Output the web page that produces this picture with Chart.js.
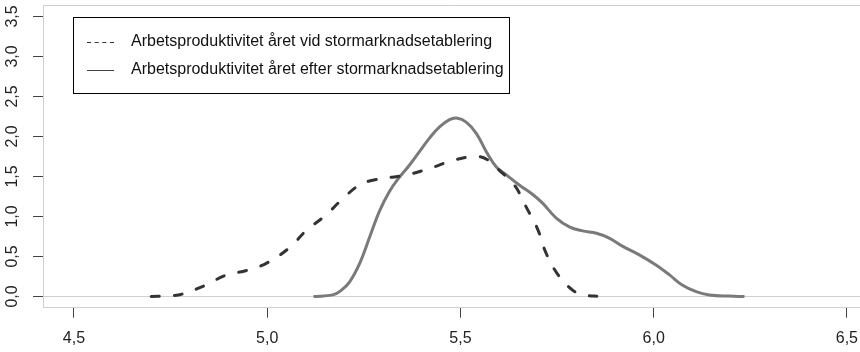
<!DOCTYPE html>
<html><head><meta charset="utf-8">
<script src="https://cdn.jsdelivr.net/npm/chart.js@4/dist/chart.umd.min.js"></script>
<style>html,body{margin:0;padding:0;background:#fff;} #wrap{width:860px;height:352px;}</style>
</head><body><div id="wrap"><canvas id="c" width="860" height="352"></canvas></div>
<script>
// Series: density of labour productivity (x)
const dashX = [4.70, 4.75, 4.78, 4.84, 4.89, 4.95, 5.00, 5.06, 5.10, 5.15, 5.195, 5.24, 5.27, 5.30, 5.36, 5.42, 5.48, 5.54, 5.57, 5.60, 5.64, 5.67, 5.70, 5.72, 5.75, 5.79, 5.82, 5.86];
const dashY = [0.00, 0.01, 0.03, 0.14, 0.26, 0.33, 0.42, 0.62, 0.82, 1.01, 1.22, 1.40, 1.45, 1.475, 1.52, 1.60, 1.70, 1.75, 1.71, 1.58, 1.39, 1.12, 0.84, 0.56, 0.29, 0.08, 0.02, 0.00];
const solidX = [5.12, 5.17, 5.19, 5.213, 5.24, 5.265, 5.29, 5.316, 5.342, 5.368, 5.394, 5.42, 5.446, 5.472, 5.49, 5.515, 5.541, 5.567, 5.593, 5.619, 5.653, 5.683, 5.712, 5.748, 5.782, 5.816, 5.852, 5.885, 5.919, 5.963, 6.007, 6.041, 6.075, 6.11, 6.144, 6.196, 6.235];
const solidY = [0.00, 0.02, 0.07, 0.18, 0.42, 0.74, 1.06, 1.31, 1.49, 1.64, 1.81, 1.98, 2.12, 2.21, 2.23, 2.18, 2.04, 1.81, 1.62, 1.52, 1.39, 1.29, 1.17, 0.98, 0.87, 0.82, 0.79, 0.73, 0.63, 0.52, 0.39, 0.27, 0.14, 0.06, 0.02, 0.005, 0.00];
const seriesLabels = ['Arbetsproduktivitet året vid stormarknadsetablering', 'Arbetsproduktivitet året efter stormarknadsetablering'];
const xTicks = [4.5, 5.0, 5.5, 6.0, 6.5];
const xTickLabels = ['4,5', '5,0', '5,5', '6,0', '6,5'];
const yTicks = [0, 0.5, 1.0, 1.5, 2.0, 2.5, 3.0, 3.5];
const yTickLabels = ['0,0', '0,5', '1,0', '1,5', '2,0', '2,5', '3,0', '3,5'];

const FONT = '"Liberation Sans", Arial, Helvetica, sans-serif';
const BOX = '#d0d0d0';

const toPts = (xs, ys) => xs.map((x, i) => ({x: x, y: ys[i]}));

const boxLegend = {
  id: 'boxLegend',
  afterDraw(chart) {
    const ctx = chart.ctx, a = chart.chartArea;
    ctx.save();
    // top border of plot box
    ctx.strokeStyle = BOX; ctx.lineWidth = 1;
    ctx.beginPath();
    ctx.moveTo(a.left, Math.round(a.top) + 0.5);
    ctx.lineTo(a.right, Math.round(a.top) + 0.5);
    ctx.stroke();
    // legend box
    ctx.strokeStyle = '#000';
    ctx.strokeRect(73.5, 17.5, 436, 76);
    const rows = [
      {y: 42, color: '#333', dash: [4, 3.67]},
      {y: 70, color: '#444', dash: []}
    ];
    ctx.font = '16px ' + FONT;
    ctx.textBaseline = 'middle';
    ctx.textAlign = 'left';
    rows.forEach((r, i) => {
      ctx.strokeStyle = r.color; ctx.lineWidth = 1; ctx.setLineDash(r.dash);
      ctx.beginPath(); ctx.moveTo(87, r.y + 0.5); ctx.lineTo(114, r.y + 0.5); ctx.stroke();
      ctx.setLineDash([]);
      ctx.fillStyle = '#111';
      ctx.fillText(seriesLabels[i], 131, r.y);
    });
    ctx.restore();
  }
};

new Chart(document.getElementById('c'), {
  type: 'scatter',
  data: {
    datasets: [
      {label: seriesLabels[0], data: toPts(dashX, dashY), showLine: true, borderColor: '#333', borderWidth: 3,
       borderDash: [8, 15], borderCapStyle: 'round', pointRadius: 0, tension: 0.4, fill: false},
      {label: seriesLabels[1], data: toPts(solidX, solidY), showLine: true, borderColor: '#7a7a7a', borderWidth: 3,
       pointRadius: 0, tension: 0.4, fill: false}
    ]
  },
  options: {
    responsive: false, animation: false, devicePixelRatio: 1,
    layout: {padding: {top: 5.3, left: 0, right: 0, bottom: 0}},
    plugins: {legend: {display: false}, tooltip: {enabled: false}},
    scales: {
      x: {
        type: 'linear', min: 4.42, max: 6.5339,
        afterBuildTicks: s => { s.ticks = xTicks.map(v => ({value: v})); },
        afterFit: s => { s.height = 352 - 307.7; s.paddingLeft = 0; s.paddingRight = 0; },
        ticks: {callback: v => xTickLabels[xTicks.indexOf(v)], font: {family: FONT, size: 16}, color: '#222',
                padding: 11, maxRotation: 0, minRotation: 0, autoSkip: false, includeBounds: false},
        grid: {drawOnChartArea: false, drawTicks: true, tickLength: 10, tickColor: '#444', tickWidth: 1},
        border: {display: true, color: BOX, width: 1}
      },
      y: {
        type: 'linear', min: -0.14, max: 3.64,
        afterBuildTicks: s => { s.ticks = yTicks.map(v => ({value: v})); },
        afterFit: s => { s.width = 43; s.paddingTop = 0; s.paddingBottom = 0; },
        ticks: {callback: v => yTickLabels[yTicks.indexOf(v)], font: {family: FONT, size: 16}, color: '#222',
                padding: 9, minRotation: 90, maxRotation: 90, crossAlign: 'center', autoSkip: false, includeBounds: false},
        grid: {drawOnChartArea: true, color: c => (c.tick && c.tick.value === 0) ? BOX : 'rgba(0,0,0,0)',
               drawTicks: true, tickLength: 10, tickColor: '#444', tickWidth: 1, lineWidth: 1},
        border: {display: true, color: BOX, width: 1}
      }
    }
  },
  plugins: [boxLegend]
});
</script>
</body></html>
